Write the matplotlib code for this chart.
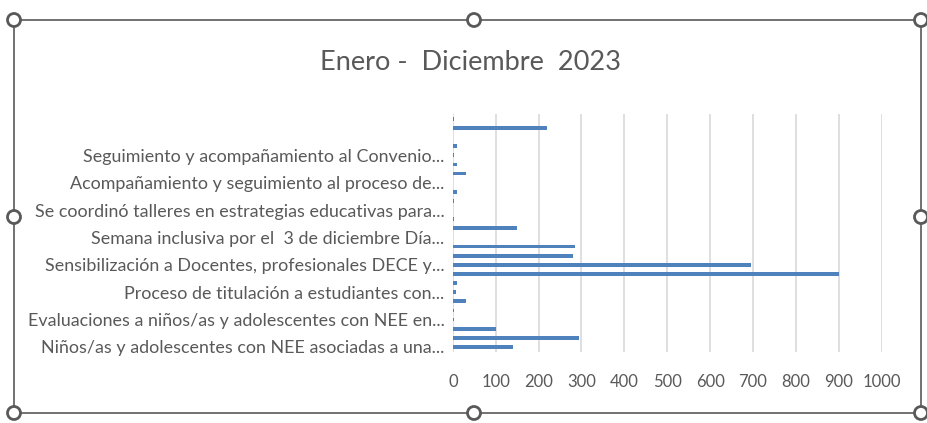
import matplotlib
import matplotlib.pyplot as plt
from matplotlib.patches import Rectangle, Circle
import numpy as np

# data (bottom to top, as drawn)
values = [140, 295, 100, 2, 2, 30, 8, 10, 900, 695, 280, 285, 0,
          150, 2, 0, 2, 10, 0, 30, 10, 2, 10, 0, 220, 2]
tick_labels = ['Niños/as y adolescentes con NEE asociadas a una...',
               'Evaluaciones a niños/as y adolescentes con NEE en...',
               'Proceso de titulación a estudiantes con...',
               'Sensibilización a Docentes, profesionales DECE y...',
               'Semana inclusiva por el  3 de diciembre Día...',
               'Se coordinó talleres en estrategias educativas para...',
               'Acompañamiento y seguimiento al proceso de...',
               'Seguimiento y acompañamiento al Convenio...',
               '']
x_ticks = [0, 100, 200, 300, 400, 500, 600, 700, 800, 900, 1000]
title = 'Enero -  Diciembre  2023'

matplotlib.rcParams['font.family'] = 'Lato'
text_color = '#595959'

fig = plt.figure(figsize=(9.28, 4.23), dpi=100)
ax = fig.add_axes([0.488, 0.169, 0.462, 0.561])

pos = np.arange(len(values))
ax.barh(pos, values, height=0.4, color='#4f81bd', zorder=3)

ax.set_ylim(-0.5, len(values) - 0.5)
ax.set_xlim(0, 1000)
ax.set_yticks(pos[::3])
ax.set_yticklabels(tick_labels, fontsize=12.9, color=text_color)
ax.set_xticks(x_ticks)
ax.set_xticklabels([str(t) for t in x_ticks], fontsize=12, color=text_color)

ax.grid(axis='x', color='#d9d9d9', linewidth=1.2, zorder=0)
for s in ['top', 'right', 'bottom', 'left']:
    ax.spines[s].set_visible(False)
ax.tick_params(axis='both', length=0)
ax.tick_params(axis='x', pad=16)
ax.tick_params(axis='y', pad=6)

fig.text(0.507, 0.853, title, ha='center', va='center', fontsize=19.5, color=text_color)

# selection frame with handles
W, H = 928, 423
fig.patches.append(Rectangle((14 / W, 1 - 413 / H), (921 - 14) / W, (413 - 20) / H,
                             transform=fig.transFigure, fill=False,
                             edgecolor='#595959', linewidth=1.2))
handles = [(14, 20), (474, 20), (921, 20), (14, 217), (921, 217),
           (14, 413), (474, 413), (921, 413)]
for hx, hy in handles:
    fig.patches.append(Circle((hx, H - hy), 6.5, transform=None,
                              facecolor='white', edgecolor='#595959',
                              linewidth=2, zorder=5))

fig.savefig('out.png', dpi=100)
